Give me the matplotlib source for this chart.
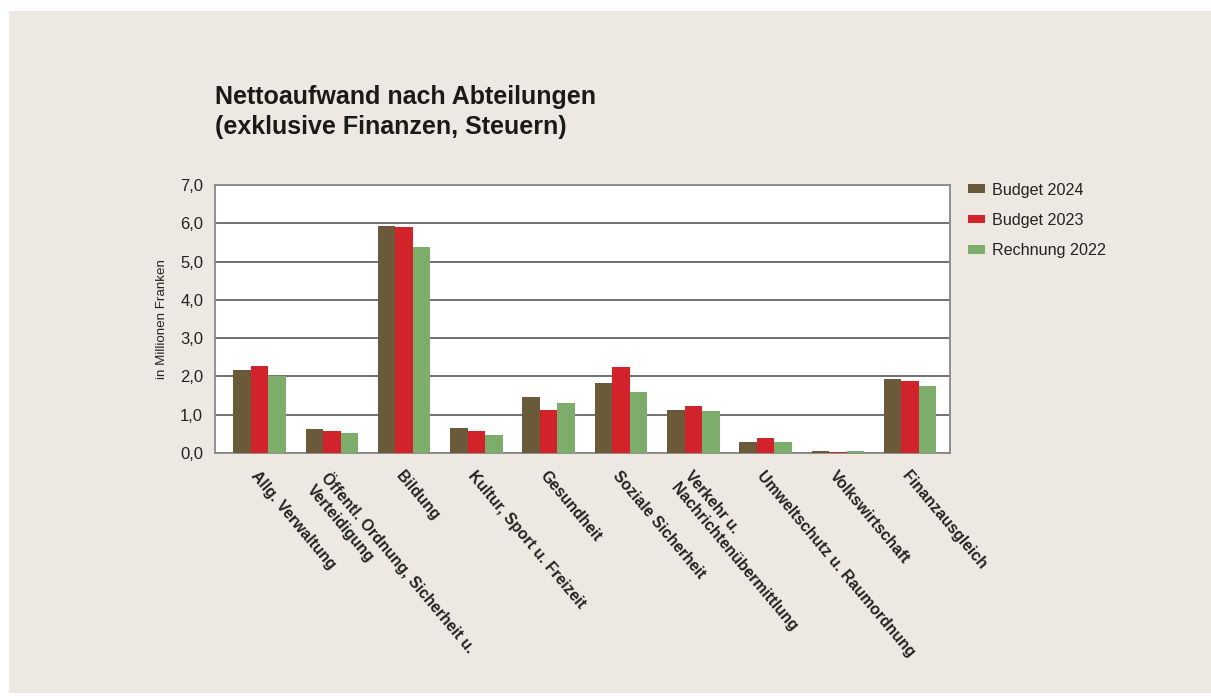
import numpy as np
import matplotlib
matplotlib.use('Agg')
import matplotlib.pyplot as plt
import matplotlib.transforms as mtransforms
from matplotlib.patches import Rectangle, Patch
from matplotlib.ticker import FuncFormatter

plt.rcParams['font.family'] = ['Liberation Sans', 'DejaVu Sans']

# data (Mio. Franken)
categories = ['Allg. Verwaltung',
              'Öffentl. Ordnung, Sicherheit u.\nVerteidigung',
              'Bildung',
              'Kultur, Sport u. Freizeit',
              'Gesundheit',
              'Soziale Sicherheit',
              'Verkehr u.\nNachrichtenübermittlung',
              'Umweltschutz u. Raumordnung',
              'Volkswirtschaft',
              'Finanzausgleich']
budget_2024 = [2.16, 0.63, 5.93, 0.65, 1.47, 1.83, 1.13, 0.28, 0.06, 1.93]
budget_2023 = [2.27, 0.58, 5.90, 0.58, 1.13, 2.24, 1.23, 0.40, 0.03, 1.88]
rechnung_2022 = [2.01, 0.53, 5.39, 0.48, 1.31, 1.59, 1.10, 0.28, 0.06, 1.75]
series_names = ['Budget 2024', 'Budget 2023', 'Rechnung 2022']
yticks = [0, 1, 2, 3, 4, 5, 6, 7]

colors = ['#6B5A3A', '#D2232A', '#7DAD6A']
bg = '#EDE9E2'

W, H = 1211, 696
fig = plt.figure(figsize=(W / 100, H / 100), dpi=100, facecolor='white')
# beige panel
fig.patches.append(Rectangle((9 / W, 3 / H), 1.0, 1 - 14 / H,
                             transform=fig.transFigure, facecolor=bg,
                             edgecolor='none', zorder=-10))

ax = fig.add_axes([215 / W, 1 - 453 / H, (950 - 215) / W, (453 - 185) / H])
ax.set_facecolor('white')

x = np.arange(len(categories))
bw = 0.242
for i, (vals, c) in enumerate(zip([budget_2024, budget_2023, rechnung_2022], colors)):
    ax.bar(x + (i - 1) * bw, vals, width=bw, color=c, zorder=3, linewidth=0)

ax.set_xlim(-0.615, 9.55)
ax.set_ylim(0, 7)
ax.set_yticks(yticks)
ax.yaxis.set_major_formatter(FuncFormatter(lambda v, p: f'{v:.1f}'.replace('.', ',')))
ax.grid(axis='y', color='#666666', linewidth=1.3, zorder=1)
ax.tick_params(axis='y', length=0, pad=8.5, labelsize=12, colors='#222222')
ax.tick_params(axis='x', length=0)
for s in ax.spines.values():
    s.set_color('#888888')
    s.set_linewidth(1.3)

ax.set_xticks(x)
ax.set_xticklabels(categories, rotation=-50, ha='left', va='top',
                   rotation_mode='anchor', fontsize=11.3, fontweight='bold',
                   color='#222222', linespacing=1.3)
shift = mtransforms.ScaledTranslation(-13 / 100, 0, fig.dpi_scale_trans)
for lab in ax.get_xticklabels():
    lab.set_multialignment('left')
    lab.set_transform(lab.get_transform() + shift)
ax.tick_params(axis='x', pad=11)

ax.set_ylabel('in Millionen Franken', fontsize=9.6, color='#222222', labelpad=9)

fig.text(215 / W, 1 - 112 / H, 'Nettoaufwand nach Abteilungen\n(exklusive Finanzen, Steuern)',
         fontsize=18, fontweight='bold', color='#1a1a1a', va='center', ha='left',
         linespacing=1.3)

handles = [Patch(facecolor=c, edgecolor='none') for c in colors]
leg = fig.legend(handles, series_names, loc='upper left',
                 bbox_to_anchor=(953 / W, 1 - 168 / H), frameon=False,
                 fontsize=11.6, handlelength=1.1, handleheight=0.45,
                 labelspacing=0.95, handletextpad=0.4)
for t in leg.get_texts():
    t.set_color('#222222')

fig.savefig('out.png', dpi=100, facecolor=fig.get_facecolor())
